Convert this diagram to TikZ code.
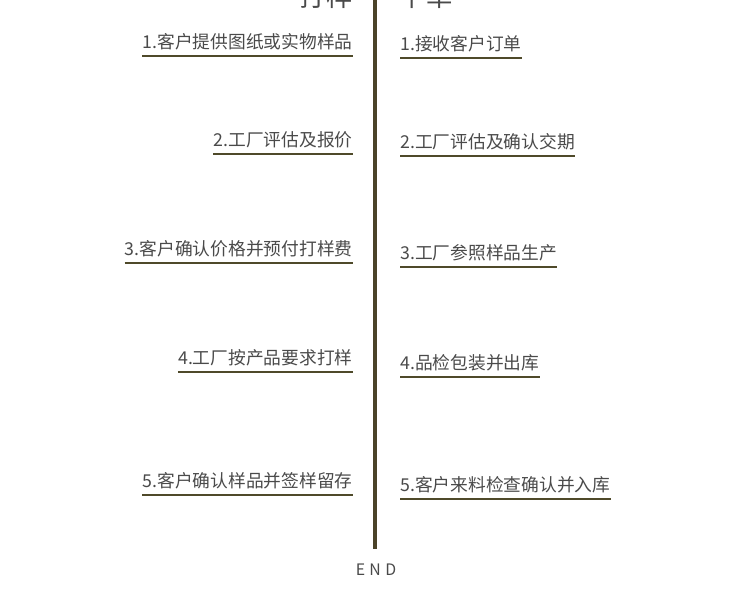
\documentclass[tikz,border=0pt]{standalone}
\usepackage{fontspec}
\setmainfont{Noto Sans CJK SC}
\usetikzlibrary{positioning}
\definecolor{spinecol}{HTML}{4B4329}
\definecolor{rulecol}{HTML}{4F4A2A}
\definecolor{txtcol}{HTML}{4A4A4A}
\tikzset{
  stepleft/.style={anchor=base east, inner sep=0pt, text=txtcol,
                   font=\fontsize{10.1}{12}\selectfont},
  stepright/.style={anchor=base west, inner sep=0pt, text=txtcol,
                    font=\fontsize{10.1}{12}\selectfont},
  steprule/.style={rulecol, line width=1.6pt},
  spine/.style={spinecol, line width=2.4pt},
  headtxt/.style={text=txtcol, inner sep=0pt, font=\fontsize{15}{18}\selectfont}
}
\newcommand{\underrule}[1]{%
  \draw[steprule] ([yshift=-4.5pt]#1.base west) -- ([yshift=-4.5pt]#1.base east);
}

\begin{document}
\begin{tikzpicture}[x=0.02cm, y=-0.02cm]
  \useasboundingbox (0,0) rectangle (750,593);
  \clip (0,0) rectangle (750,593);
  % headings, cut off by the top edge
  \node[headtxt, anchor=south] (hl) at (326,9) {打样};
  \node[headtxt, anchor=south] (hr) at (426,9) {下单};
  % left column: sampling
  \foreach \n/\y/\txt in {1/48/{1.客户提供图纸或实物样品},
                          2/146/{2.工厂评估及报价},
                          3/255/{3.客户确认价格并预付打样费},
                          4/364/{4.工厂按产品要求打样},
                          5/487/{5.客户确认样品并签样留存}} {
    \node[stepleft] (l\n) at (353,\y) {\txt};
    \underrule{l\n}
  }
  % right column: ordering
  \foreach \n/\y/\txt in {1/50/{1.接收客户订单},
                          2/148/{2.工厂评估及确认交期},
                          3/259/{3.工厂参照样品生产},
                          4/369/{4.品检包装并出库},
                          5/491/{5.客户来料检查确认并入库}} {
    \node[stepright] (r\n) at (400,\y) {\txt};
    \underrule{r\n}
  }
  % spine
  \coordinate (top) at (375,-2);
  \node[text=txtcol, font=\fontsize{9}{10}\selectfont] (end) at (376,570)
    {E\hspace{2.5pt}N\hspace{2.5pt}D};
  \draw[spine] (top) -- ([yshift=5pt]end.north -| top);
\end{tikzpicture}
\end{document}
